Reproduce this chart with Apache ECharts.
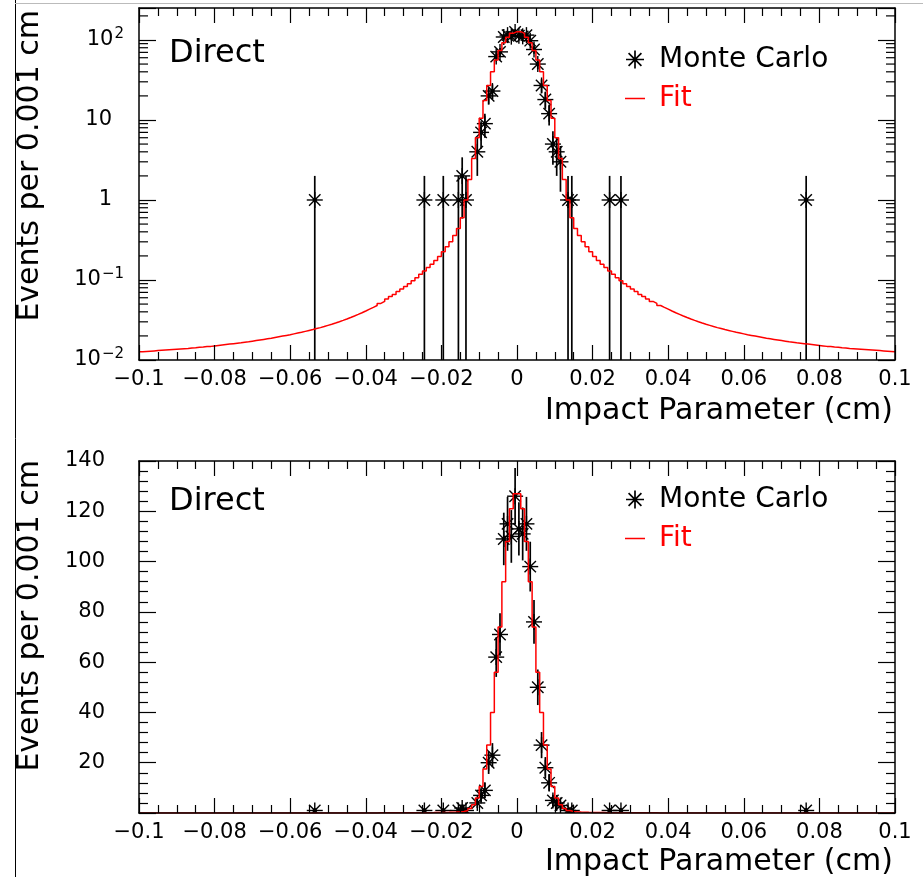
<!DOCTYPE html>
<html>
<head>
<meta charset="utf-8">
<script src="https://cdn.jsdelivr.net/npm/echarts@6/dist/echarts.min.js"></script>
<style>
html, body { margin: 0; padding: 0; background: #fff; }
#main { width: 923px; height: 877px; }
</style>
</head>
<body>
<div id="main"></div>
<script>
// Monte Carlo histogram: bin centres (cm) and counts per 0.001 cm bin
var mcX = [-0.0535, -0.0245, -0.0195, -0.0155, -0.0145, -0.0135, -0.0105, -0.0095, -0.0085, -0.0075,
	-0.0065, -0.0055, -0.0045, -0.0035, -0.0025, -0.0015, -0.0005, 0.0005, 0.0015, 0.0025,
	0.0035, 0.0045, 0.0055, 0.0065, 0.0075, 0.0085, 0.0095, 0.0105, 0.0115, 0.0135,
	0.0145, 0.0245, 0.0275, 0.0765];
var mcCounts = [1, 1, 1, 1, 2, 1, 4, 7, 9, 20,
	23, 62, 71, 109, 115, 110, 126, 113, 111, 115,
	98, 76, 50, 27, 18, 12, 5, 4, 3, 1,
	1, 1, 1, 1];

// Fit, one value per 0.001 cm bin; negative side from -0.1 up to 0, positive side from 0 up to 0.1
var fitStart = -0.1;
var fitBinWidth = 0.001;
var fitNeg = [0.0127, 0.0128, 0.0129, 0.013, 0.0131, 0.0132, 0.0133, 0.0134, 0.0135, 0.0136,
	0.0137, 0.0138, 0.0139, 0.0141, 0.0142, 0.0144, 0.0145, 0.0147, 0.0148, 0.015,
	0.0152, 0.0154, 0.0156, 0.0158, 0.016, 0.0162, 0.0164, 0.0167, 0.0169, 0.0172,
	0.0175, 0.0178, 0.0181, 0.0184, 0.0187, 0.0191, 0.0195, 0.0199, 0.0203, 0.0207,
	0.0212, 0.0217, 0.0222, 0.0228, 0.0234, 0.024, 0.0247, 0.0254, 0.0262, 0.0271,
	0.028, 0.029, 0.0301, 0.0313, 0.0326, 0.034, 0.0355, 0.0372, 0.039, 0.041,
	0.0432, 0.0455, 0.048, 0.051, 0.054, 0.058, 0.062, 0.066, 0.072, 0.077,
	0.083, 0.09, 0.098, 0.107, 0.118, 0.13, 0.143, 0.157, 0.175, 0.197,
	0.225, 0.26, 0.3, 0.36, 0.44, 0.6, 1.0, 1.8, 3.3, 6.0,
	10.5, 17.5, 27, 40, 56, 74, 92, 108, 121, 127];
var fitPos = [127, 121, 108, 92, 74, 56, 40, 27, 17.5, 10.5,
	6.0, 3.3, 1.8, 1.0, 0.6, 0.44, 0.36, 0.3, 0.26, 0.225,
	0.197, 0.175, 0.157, 0.143, 0.13, 0.118, 0.107, 0.098, 0.09, 0.083,
	0.077, 0.072, 0.066, 0.062, 0.058, 0.054, 0.051, 0.048, 0.0455, 0.0432,
	0.041, 0.039, 0.0372, 0.0355, 0.034, 0.0326, 0.0313, 0.0301, 0.029, 0.028,
	0.0271, 0.0262, 0.0254, 0.0247, 0.024, 0.0234, 0.0228, 0.0222, 0.0217, 0.0212,
	0.0207, 0.0203, 0.0199, 0.0195, 0.0191, 0.0187, 0.0184, 0.0181, 0.0178, 0.0175,
	0.0172, 0.0169, 0.0167, 0.0164, 0.0162, 0.016, 0.0158, 0.0156, 0.0154, 0.0152,
	0.015, 0.0148, 0.0147, 0.0145, 0.0144, 0.0142, 0.0141, 0.0139, 0.0138, 0.0137,
	0.0136, 0.0135, 0.0134, 0.0133, 0.0132, 0.0131, 0.013, 0.0129, 0.0128, 0.0127];

// axis ranges
var xMin = -0.1, xMax = 0.1, xStep = 0.02;
var logMin = 0.01, logMax = 251;
var linMin = 0, linMax = 140, linStep = 20;
var logDecades = [0.01, 0.1, 1, 10, 100];
var logMinorSteps = [2, 3, 4, 5, 6, 7, 8, 9];

var FONT = 'DejaVu Sans';
var RED = '#ff0000';
var ASTERISK = 'path://M9.25,2L10.75,2L10.75,18L9.25,18Z M2,9.25L18,9.25L18,10.75L2,10.75Z ' +
	'M4.83,3.77L16.23,15.17L15.17,16.23L3.77,4.83Z M3.77,15.17L15.17,3.77L16.23,4.83L4.83,16.23Z';
// short red bar, with two invisible specks so the icon keeps its box
var FITLINE = 'path://M0,0L0.01,0L0.01,0.01Z M20,18L19.99,18L19.99,17.99Z M0,8.2L20,8.2L20,9.8L0,9.8Z';

var fitValues = fitNeg.concat(fitPos);
var fitStep = [];
for (var i = 0; i < fitValues.length; i++) {
	var lo = fitStart + i * fitBinWidth;
	fitStep.push([lo, fitValues[i]]);
	fitStep.push([lo + fitBinWidth, fitValues[i]]);
}

var mcData = mcX.map(function (x, i) { return [x, mcCounts[i]]; });

var logTickData = [];
logDecades.forEach(function (d) {
	logMinorSteps.forEach(function (k) {
		if (d * k < logMax) logTickData.push([xMin, d * k]);
	});
});

function xLabel(v) {
	var r = Math.round(v * 1000) / 1000;
	return String(r).replace('-', '\u2212');
}

function logLabel(v) {
	var e = Math.round(Math.log(v) / Math.LN10);
	if (Math.abs(Math.log(v) / Math.LN10 - e) > 1e-6) return '';
	if (e === 0) return '{p|1}';
	if (e === 1) return '{p|10}';
	return '{b|10}{s|' + (e < 0 ? '\u2212' : '') + Math.abs(e) + '}';
}

function renderMC(isLog) {
	return function (params, api) {
		var x = api.value(0), n = api.value(1);
		var err = Math.sqrt(n);
		var lo = n - err;
		var floor = isLog ? logMin : linMin;
		if (lo < floor) lo = floor;
		var c = api.coord([x, n]);
		var pLo = api.coord([x, lo]);
		var pHi = api.coord([x, n + err]);
		var r = 8, d = 5.7;
		var st = { stroke: '#000', lineWidth: 1.4 };
		return {
			type: 'group',
			children: [
				{ type: 'line', shape: { x1: c[0], y1: pLo[1], x2: c[0], y2: pHi[1] }, style: { stroke: '#000', lineWidth: 1.7 } },
				{ type: 'line', shape: { x1: c[0], y1: c[1] - r, x2: c[0], y2: c[1] + r }, style: st },
				{ type: 'line', shape: { x1: c[0] - r, y1: c[1], x2: c[0] + r, y2: c[1] }, style: st },
				{ type: 'line', shape: { x1: c[0] - d, y1: c[1] - d, x2: c[0] + d, y2: c[1] + d }, style: st },
				{ type: 'line', shape: { x1: c[0] - d, y1: c[1] + d, x2: c[0] + d, y2: c[1] - d }, style: st },
				{ type: 'circle', shape: { cx: c[0], cy: c[1], r: 2.2 }, style: { fill: '#000' } }
			]
		};
	};
}

function renderLogTicks(params, api) {
	var v = api.value(1);
	var pl = api.coord([xMin, v]);
	var pr = api.coord([xMax, v]);
	var st = { stroke: '#000', lineWidth: 1.2 };
	return {
		type: 'group',
		children: [
			{ type: 'line', shape: { x1: pl[0], y1: pl[1], x2: pl[0] + 9, y2: pl[1] }, style: st },
			{ type: 'line', shape: { x1: pr[0], y1: pr[1], x2: pr[0] - 9, y2: pr[1] }, style: st }
		]
	};
}

var axisLine = { show: true, onZero: false, lineStyle: { color: '#000', width: 1.5 } };

function xAxisOf(grid, pos, labels) {
	return {
		type: 'value', gridIndex: grid, position: pos, z: 5,
		min: xMin, max: xMax, interval: xStep,
		axisLine: axisLine,
		axisTick: { show: true, inside: true, length: 15, lineStyle: { color: '#000', width: 1.2 } },
		minorTick: { show: true, splitNumber: 4, length: 8, lineStyle: { color: '#000', width: 1.2 } },
		axisLabel: {
			show: labels, margin: 9, formatter: xLabel, color: '#000',
			fontFamily: FONT, fontSize: 21, showMinLabel: true, showMaxLabel: true
		},
		splitLine: { show: false }
	};
}

function logAxisOf(pos, labels) {
	return {
		type: 'log', logBase: 10, gridIndex: 0, position: pos, z: 5,
		min: logMin, max: logMax,
		axisLine: axisLine,
		axisTick: { show: true, inside: true, length: 17, lineStyle: { color: '#000', width: 1.2 } },
		axisLabel: {
			show: labels, margin: 15, formatter: logLabel, color: '#000',
			fontFamily: FONT, fontSize: 21,
			rich: {
				p: { fontFamily: FONT, fontSize: 21, color: '#000', padding: [0, 12, 0, 0] },
				b: { fontFamily: FONT, fontSize: 21, color: '#000', lineHeight: 26 },
				s: { fontFamily: FONT, fontSize: 15, color: '#000', lineHeight: 15, verticalAlign: 'top', padding: [0, 0, 0, 1] }
			}
		},
		splitLine: { show: false }
	};
}

function linAxisOf(pos, labels) {
	return {
		type: 'value', gridIndex: 1, position: pos, z: 5,
		min: linMin, max: linMax, interval: linStep,
		axisLine: axisLine,
		axisTick: { show: true, inside: true, length: 17, lineStyle: { color: '#000', width: 1.2 } },
		minorTick: { show: true, splitNumber: 5, length: 9, lineStyle: { color: '#000', width: 1.2 } },
		axisLabel: {
			show: labels, margin: 34, color: '#000', fontFamily: FONT, fontSize: 21,
			formatter: function (v) { return v === 0 ? '' : String(v); }
		},
		splitLine: { show: false }
	};
}

function legendOf(top) {
	return {
		orient: 'vertical', left: 620, top: top, itemGap: 8,
		itemWidth: 20, itemHeight: 18,
		selectedMode: false,
		textStyle: { fontFamily: FONT, fontSize: 28, color: '#000', padding: [0, 0, 0, 9], lineHeight: 31 },
		data: [
			{ name: 'Monte Carlo', icon: ASTERISK, itemStyle: { color: '#000' } },
			{ name: 'Fit', icon: FITLINE, itemStyle: { color: RED }, textStyle: { color: RED } }
		]
	};
}

function textEl(x, y, txt, size, align, rot) {
	return {
		type: 'text', x: x, y: y, rotation: rot || 0,
		style: { text: txt, fill: '#000', font: size + 'px "' + FONT + '"', textAlign: align, textVerticalAlign: 'middle' }
	};
}

var chart = echarts.init(document.getElementById('main'), null, { renderer: 'canvas' });
chart.setOption({
	animation: false,
	backgroundColor: '#fff',
	grid: [
		{ left: 139, top: 8, width: 756, height: 352, outerBoundsMode: 'none' },
		{ left: 139, top: 461, width: 756, height: 352, outerBoundsMode: 'none' }
	],
	xAxis: [xAxisOf(0, 'bottom', true), xAxisOf(0, 'top', false), xAxisOf(1, 'bottom', true), xAxisOf(1, 'top', false)],
	yAxis: [logAxisOf('left', true), logAxisOf('right', false), linAxisOf('left', true), linAxisOf('right', false)],
	legend: [legendOf(39), legendOf(479)],
	graphic: [
		{ type: 'line', shape: { x1: 15.5, y1: 0, x2: 15.5, y2: 877 }, style: { stroke: '#000', lineWidth: 1 } },
		{ type: 'line', shape: { x1: 15, y1: 3.5, x2: 923, y2: 3.5 }, style: { stroke: '#bbb', lineWidth: 1 } },
		textEl(169, 54, 'Direct', 32, 'left'),
		textEl(169, 502, 'Direct', 32, 'left'),
		textEl(893, 411, 'Impact Parameter (cm)', 30, 'right'),
		textEl(893, 862, 'Impact Parameter (cm)', 30, 'right'),
		textEl(30, 10, 'Events per 0.001 cm', 30, 'right', Math.PI / 2),
		textEl(30, 460, 'Events per 0.001 cm', 30, 'right', Math.PI / 2)
	],
	series: [
		{
			name: 'Fit', type: 'line', xAxisIndex: 0, yAxisIndex: 0, data: fitStep,
			symbol: 'none', clip: true, lineStyle: { color: RED, width: 1.5 }, itemStyle: { color: RED }
		},
		{
			name: 'Monte Carlo', type: 'custom', xAxisIndex: 0, yAxisIndex: 0, data: mcData,
			encode: { x: 0, y: 1 }, clip: true, renderItem: renderMC(true), itemStyle: { color: '#000' }
		},
		{
			name: 'logTicks', type: 'custom', xAxisIndex: 0, yAxisIndex: 0, data: logTickData,
			encode: { x: 0, y: 1 }, renderItem: renderLogTicks, silent: true
		},
		{
			name: 'Fit', type: 'line', xAxisIndex: 2, yAxisIndex: 2, data: fitStep,
			symbol: 'none', clip: true, lineStyle: { color: RED, width: 1.5 }, itemStyle: { color: RED }
		},
		{
			name: 'Monte Carlo', type: 'custom', xAxisIndex: 2, yAxisIndex: 2, data: mcData,
			encode: { x: 0, y: 1 }, clip: true, renderItem: renderMC(false), itemStyle: { color: '#000' }
		}
	]
});
</script>
</body>
</html>
